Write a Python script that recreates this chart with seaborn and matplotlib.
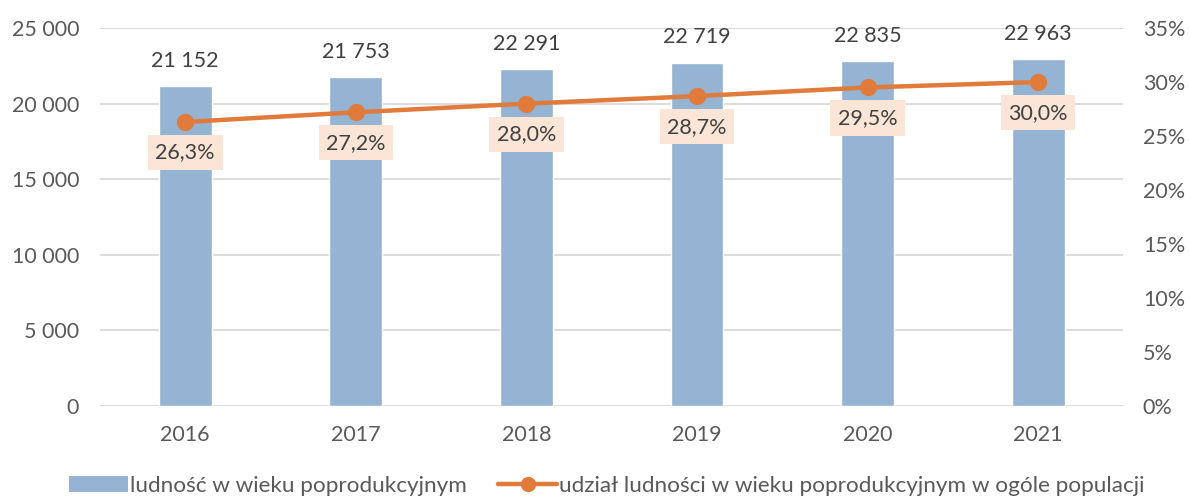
import matplotlib
matplotlib.use("Agg")
import matplotlib.pyplot as plt
from matplotlib.lines import Line2D
from matplotlib.patches import Patch
import seaborn as sns
import pandas as pd

# dane
years = ["2016", "2017", "2018", "2019", "2020", "2021"]
population = [21152, 21753, 22291, 22719, 22835, 22963]
share_pct = [26.3, 27.2, 28.0, 28.7, 29.5, 30.0]
bar_label = "ludność w wieku poprodukcyjnym"
line_label = "udział ludności w wieku poprodukcyjnym w ogóle populacji"

BAR_COLOR = "#95B3D2"
LINE_COLOR = "#E07B3B"
BOX_COLOR = "#FBE5D6"
TEXT_DARK = "#404040"
TEXT_TICK = "#595959"
FS = 15.5

sns.set_style("white")
plt.rcParams["font.family"] = ["Lato", "DejaVu Sans"]

df = pd.DataFrame({"rok": years, "ludnosc": population, "udzial": [v / 100 for v in share_pct]})

fig = plt.figure(figsize=(11.9, 5.01), dpi=100)
ax = fig.add_axes([0.084, 0.1896, 0.86, 0.7544])

sns.barplot(data=df, x="rok", y="ludnosc", color=BAR_COLOR, width=0.31,
            saturation=1, ax=ax, zorder=2)
ax.set_ylim(0, 25000)
ax.set_yticks(range(0, 25001, 5000))
ax.set_yticklabels([f"{v:,}".replace(",", " ") for v in range(0, 25001, 5000)])
ax.yaxis.grid(True, color="#D9D9D9", linewidth=1.3, zorder=0)
ax.set_axisbelow(True)
ax.set_xlabel("")
ax.set_ylabel("")
for s in ax.spines.values():
    s.set_visible(False)
ax.tick_params(axis="both", length=0, labelsize=FS, colors=TEXT_TICK, pad=14)
ax.tick_params(axis="y", pad=15)

for i, v in enumerate(population):
    ax.annotate(f"{v:,}".replace(",", " "), (i, v), xytext=(0, 11),
                textcoords="offset points", ha="center", va="bottom",
                fontsize=FS, color=TEXT_DARK)

ax2 = ax.twinx()
sns.pointplot(data=df, x="rok", y="udzial", color=LINE_COLOR, ax=ax2,
              markers="o", markersize=10, linewidth=3.2)
ax2.set_ylim(0, 0.35)
ax2.set_yticks([i * 0.05 for i in range(8)])
ax2.set_yticklabels([f"{i * 5}%" for i in range(8)])
ax2.set_ylabel("")
ax2.set_xlabel("")
for s in ax2.spines.values():
    s.set_visible(False)
ax2.tick_params(axis="y", length=0, labelsize=FS, colors=TEXT_TICK, pad=14)

for i, v in enumerate(share_pct):
    ax2.annotate(f"{v:.1f}%".replace(".", ","), (i, v / 100), xytext=(0, -22),
                 textcoords="offset points", ha="center", va="center",
                 fontsize=FS, color=TEXT_DARK,
                 bbox=dict(boxstyle="square,pad=0.35", fc=BOX_COLOR, ec="none"))

handles = [
    Patch(facecolor=BAR_COLOR, edgecolor="none", label=bar_label),
    Line2D([0], [0], color=LINE_COLOR, linewidth=3.2, marker="o",
           markersize=10, label=line_label),
]
fig.legend(handles=handles, loc="lower center", bbox_to_anchor=(0.51, -0.03),
           ncol=2, frameon=False, fontsize=16.2, handlelength=2.6,
           handletextpad=0.1, columnspacing=1.4, labelcolor=TEXT_TICK)

fig.savefig("out.png", dpi=100)
